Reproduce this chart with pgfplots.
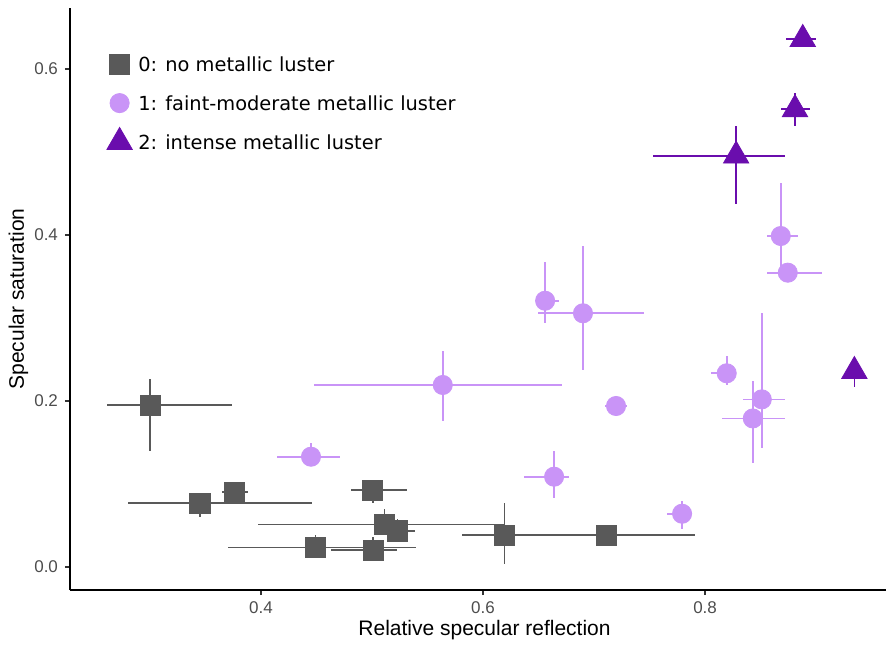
\documentclass[border=0pt]{standalone}
\usepackage{fontspec}
\setmainfont{Liberation Sans}
\newfontfamily\legfont{DejaVu Sans}
\usepackage{pgfplots}
\pgfplotsset{compat=1.18}
\usepackage{pgfplotstable}
\definecolor{c0}{HTML}{595959}
\definecolor{c1}{HTML}{C994F7}
\definecolor{c2}{HTML}{6A0DAD}
\definecolor{tickgrey}{HTML}{4D4D4D}

% group 0: no metallic luster
\pgfplotstableread{
x      y      xlo    xhi    ylo    yhi
0.300  0.195  0.261  0.374  0.140  0.2265
0.345  0.077  0.2805 0.4457 0.0606 0.085
0.376  0.090  0.3646 0.388  0.082  0.098
0.5006 0.0924 0.4808 0.5318 0.0775 0.100
0.5111 0.0514 0.3976 0.619  0.040  0.0695
0.5228 0.0434 0.510  0.5387 0.035  0.058
0.449  0.0237 0.3706 0.5394 0.015  0.039
0.5011 0.0205 0.4628 0.5229 0.012  0.0366
0.6192 0.0382 0.5814 0.6889 0.0036 0.0767
0.711  0.0382 0.6048 0.791  0.030  0.046
}\groupA

% group 1: faint-moderate metallic luster
\pgfplotstableread{
x      y      xlo    xhi    ylo    yhi
0.445  0.1329 0.4147 0.4709 0.125  0.1498
0.5637 0.2193 0.4477 0.6712 0.1759 0.2606
0.6559 0.3208 0.650  0.6685 0.2936 0.3678
0.690  0.3057 0.6498 0.745  0.2373 0.3867
0.7198 0.194  0.7099 0.730  0.190  0.198
0.664  0.1088 0.637  0.677  0.0835 0.140
0.7793 0.0642 0.766  0.785  0.0454 0.0795
0.8682 0.3988 0.8555 0.8841 0.36   0.463
0.8745 0.3546 0.8562 0.905  0.345  0.365
0.8195 0.2334 0.805  0.826  0.219  0.2546
0.8511 0.202  0.8345 0.872  0.143  0.3057
0.843  0.179  0.815  0.872  0.125  0.2245
}\groupB

% group 2: intense metallic luster
\pgfplotstableread{
x      y      xlo    xhi    ylo    yhi
0.888  0.636  0.8727 0.8997 0.630  0.640
0.881  0.5514 0.8682 0.8946 0.5313 0.5715
0.828  0.4955 0.753  0.872  0.437  0.5313
0.9345 0.236  0.930  0.940  0.217  0.245
}\groupC

\pgfplotsset{
  table/errtab/.style={x=x, y=y,
    x error plus expr=\thisrow{xhi}-\thisrow{x},
    x error minus expr=\thisrow{x}-\thisrow{xlo},
    y error plus expr=\thisrow{yhi}-\thisrow{y},
    y error minus expr=\thisrow{y}-\thisrow{ylo}},
  errplot/.style={only marks, mark=none, forget plot,
    error bars/.cd, x dir=both, x explicit, y dir=both, y explicit,
    error mark=none, error bar style={#1, line width=0.85pt, line cap=butt}},
}

\begin{document}
\begin{tikzpicture}
\path[use as bounding box] (-35pt,-27pt) rectangle (408pt,295pt);
\begin{axis}[
  at={(0,0)}, anchor=south west,
  scale only axis, width=408pt, height=291pt,
  xmin=0.2279, xmax=0.963, ymin=-0.0277, ymax=0.6735,
  axis lines=left, axis line style={-, black, line width=0.8pt},
  xtick={0.4,0.6,0.8}, ytick={0,0.2,0.4,0.6},
  tick align=outside, major tick length=2.5pt,
  tick style={black!80, line width=0.6pt},
  /pgf/number format/assume math mode=true,
  ticklabel style={font=\fontsize{8.5}{10}\selectfont, text=tickgrey,
    /pgf/number format/.cd, fixed, fixed zerofill, precision=1},
  xlabel={Relative specular reflection},
  ylabel={Specular saturation},
  label style={font=\fontsize{10.5}{12}\selectfont},
  xlabel style={at={(axis description cs:0.508,-0.079)}, anchor=base},
  ylabel style={at={(axis description cs:-0.0564,0.5)}, anchor=base},
  legend style={at={(0.0453,0.9325)}, anchor=north west, draw=none, fill=none,
    font=\legfont\fontsize{9.7}{12}\selectfont, inner sep=0pt, outer sep=0pt,
    row sep=4.5pt,
    nodes={text height=12pt, text depth=3pt, inner ysep=0pt, inner xsep=3pt},
    cells={anchor=base west}},
  legend image code/.code={\draw[#1] plot coordinates {(0pt,3.6pt)};},
  clip=false,
]
\addplot[errplot=c0] table[errtab] {\groupA};
\addplot[errplot=c1] table[errtab] {\groupB};
\addplot[errplot=c2] table[errtab] {\groupC};

\addplot[only marks, mark=square*, mark size=5.05pt, color=c0, mark options={fill=c0}] table[x=x,y=y] {\groupA};
\addlegendentry{0: no metallic luster}
\addplot[only marks, mark=*, mark size=4.8pt, color=c1, mark options={fill=c1}] table[x=x,y=y] {\groupB};
\addlegendentry{1: faint-moderate metallic luster}
\addplot[only marks, mark=triangle*, mark size=7.3pt, color=c2, mark options={fill=c2}] table[x=x,y=y] {\groupC};
\addlegendentry{2: intense metallic luster}
\end{axis}
\end{tikzpicture}
\end{document}
